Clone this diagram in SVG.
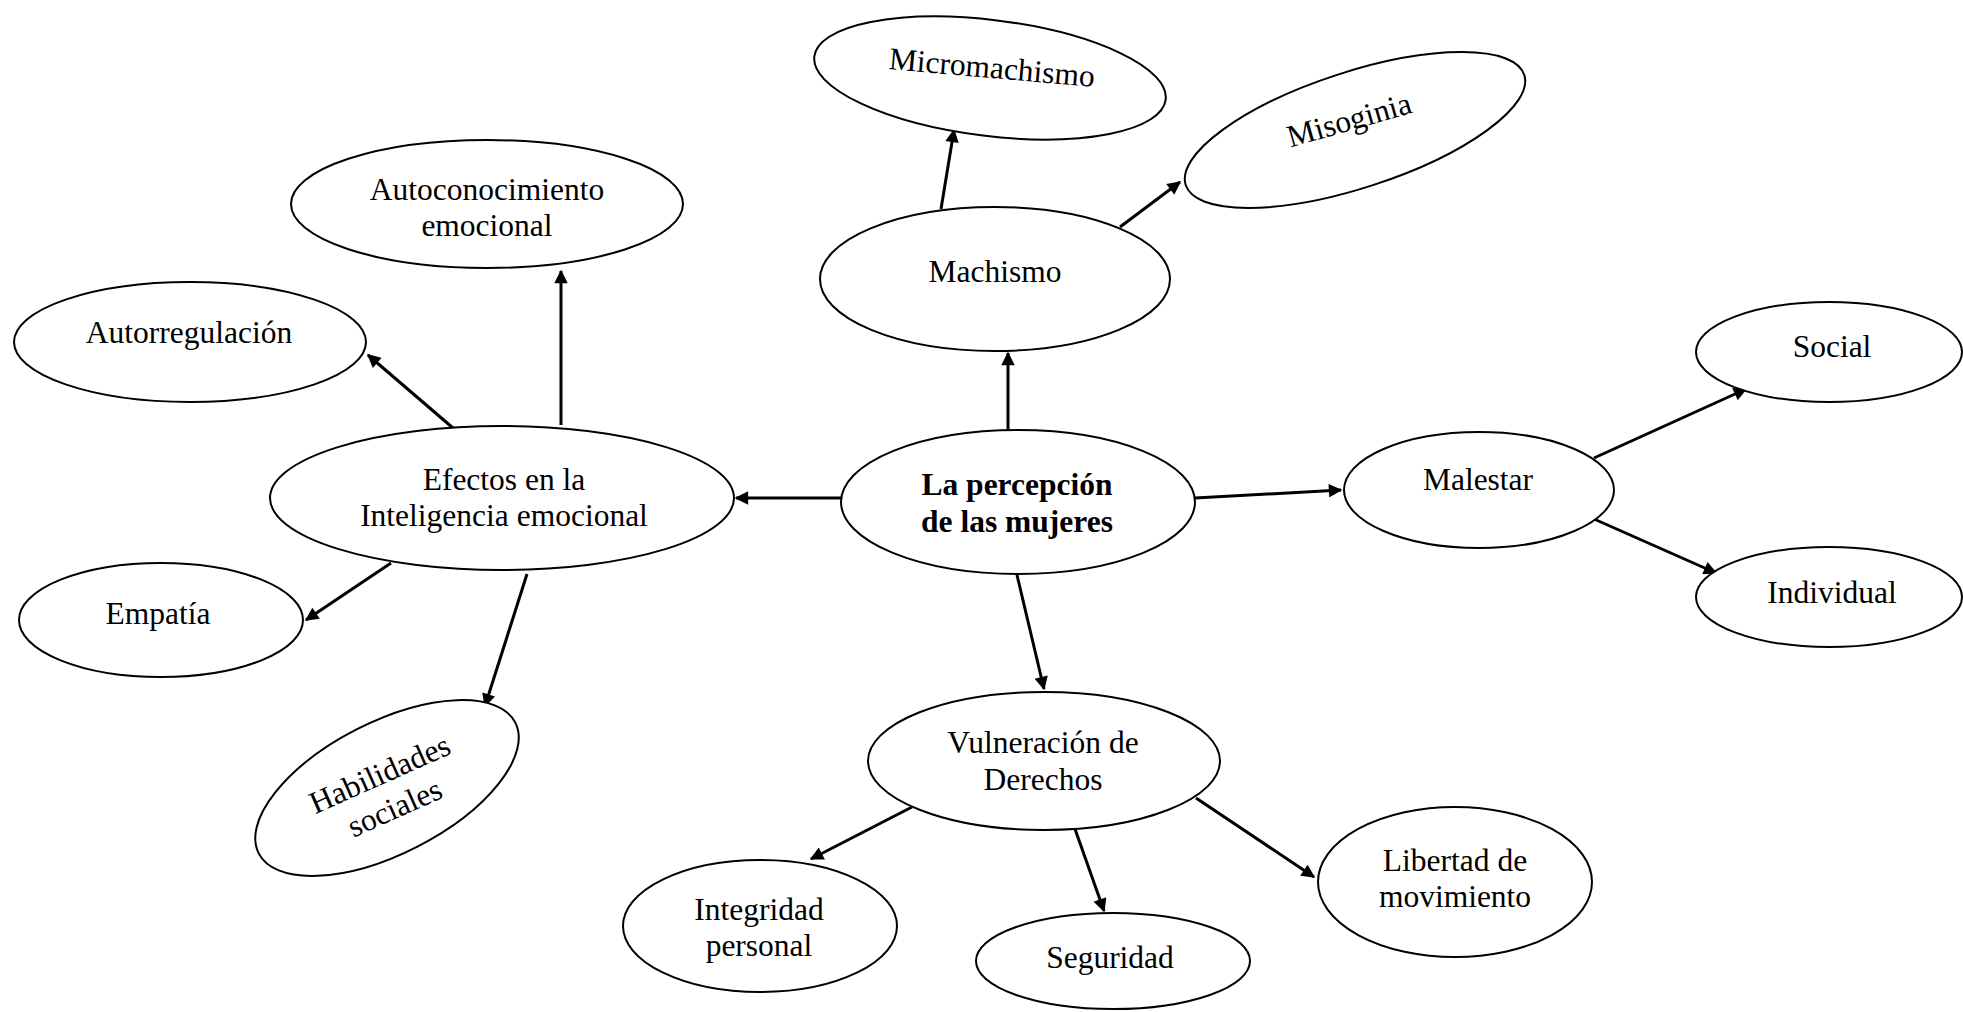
<svg xmlns="http://www.w3.org/2000/svg" width="1963" height="1012" viewBox="0 0 1963 1012">
<style>
.node ellipse{fill:#fff;stroke:#000;stroke-width:2}
text{font-family:"Liberation Serif","Times New Roman",serif;font-size:31.5px;fill:#000;text-anchor:middle}
.b{font-weight:bold}
.conn line{stroke:#000;stroke-width:3;marker-end:url(#ah)}
</style>
<defs>
<marker id="ah" viewBox="0 0 10 10" refX="9" refY="5" markerWidth="5.5" markerHeight="4.5" orient="auto" markerUnits="strokeWidth">
<path d="M0,0 L10,5 L0,10 z" fill="#000"/>
</marker>
</defs>
<rect width="1963" height="1012" fill="#fff"/>
<g id="connectors" class="conn">
<line x1="1008" y1="430" x2="1008" y2="353"/>
<line x1="941" y1="209" x2="954" y2="130"/>
<line x1="1120" y1="227" x2="1180" y2="182"/>
<line x1="841" y1="498" x2="736" y2="498"/>
<line x1="1195" y1="498" x2="1341" y2="490"/>
<line x1="1017" y1="575" x2="1044" y2="689"/>
<line x1="561" y1="425" x2="561" y2="271"/>
<line x1="453" y1="428" x2="368" y2="355"/>
<line x1="391" y1="563" x2="306" y2="620"/>
<line x1="527" y1="574" x2="485" y2="706"/>
<line x1="1594" y1="458" x2="1746" y2="389"/>
<line x1="1594" y1="519" x2="1716" y2="573"/>
<line x1="912" y1="807" x2="811" y2="859"/>
<line x1="1075" y1="829" x2="1104" y2="911"/>
<line x1="1196" y1="798" x2="1314" y2="877"/>
</g>
<g id="n_center" class="node">
<ellipse cx="1018" cy="502" rx="177" ry="72"/>
<text class="b" x="1017" y="495">La percepción</text>
<text class="b" x="1017" y="532">de las mujeres</text>
</g>
<g id="n_machismo" class="node">
<ellipse cx="995" cy="279" rx="175" ry="72"/>
<text x="995" y="282">Machismo</text>
</g>
<g id="n_micromachismo" class="node">
<ellipse cx="990" cy="78" rx="177" ry="58" transform="rotate(7 990 78)"/>
<text x="0" y="0" transform="translate(991 78) rotate(5)">Micromachismo</text>
</g>
<g id="n_misoginia" class="node">
<ellipse cx="1355" cy="130" rx="178" ry="58" transform="rotate(-18 1355 130)"/>
<text x="0" y="0" transform="translate(1352 130) rotate(-16)">Misoginia</text>
</g>
<g id="n_efectos" class="node">
<ellipse cx="502" cy="498" rx="232" ry="72"/>
<text x="504" y="490">Efectos en la</text>
<text x="504" y="526">Inteligencia emocional</text>
</g>
<g id="n_autoconocimiento" class="node">
<ellipse cx="487" cy="204" rx="196" ry="64"/>
<text x="487" y="200">Autoconocimiento</text>
<text x="487" y="236">emocional</text>
</g>
<g id="n_autorregulacion" class="node">
<ellipse cx="190" cy="342" rx="176" ry="60"/>
<text x="189" y="343">Autorregulación</text>
</g>
<g id="n_empatia" class="node">
<ellipse cx="161" cy="620" rx="142" ry="57"/>
<text x="158" y="624">Empatía</text>
</g>
<g id="n_habilidades" class="node">
<ellipse cx="387" cy="788" rx="144" ry="66" transform="rotate(-27 387 788)"/>
<g transform="translate(391.5 800.5) rotate(-24)">
<text x="0" y="-18.5">Habilidades</text>
<text x="0" y="18.5">sociales</text>
</g>
</g>
<g id="n_malestar" class="node">
<ellipse cx="1479" cy="490" rx="135" ry="58"/>
<text x="1478" y="490">Malestar</text>
</g>
<g id="n_social" class="node">
<ellipse cx="1829" cy="352" rx="133" ry="50"/>
<text x="1832" y="357">Social</text>
</g>
<g id="n_individual" class="node">
<ellipse cx="1829" cy="597" rx="133" ry="50"/>
<text x="1832" y="603">Individual</text>
</g>
<g id="n_vulneracion" class="node">
<ellipse cx="1044" cy="761" rx="176" ry="69"/>
<text x="1043" y="753">Vulneración de</text>
<text x="1043" y="790">Derechos</text>
</g>
<g id="n_integridad" class="node">
<ellipse cx="760" cy="926" rx="137" ry="66"/>
<text x="759" y="920">Integridad</text>
<text x="759" y="956">personal</text>
</g>
<g id="n_seguridad" class="node">
<ellipse cx="1113" cy="961" rx="137" ry="48"/>
<text x="1110" y="968">Seguridad</text>
</g>
<g id="n_libertad" class="node">
<ellipse cx="1455" cy="882" rx="137" ry="75"/>
<text x="1455" y="871">Libertad de</text>
<text x="1455" y="907">movimiento</text>
</g>
</svg>
